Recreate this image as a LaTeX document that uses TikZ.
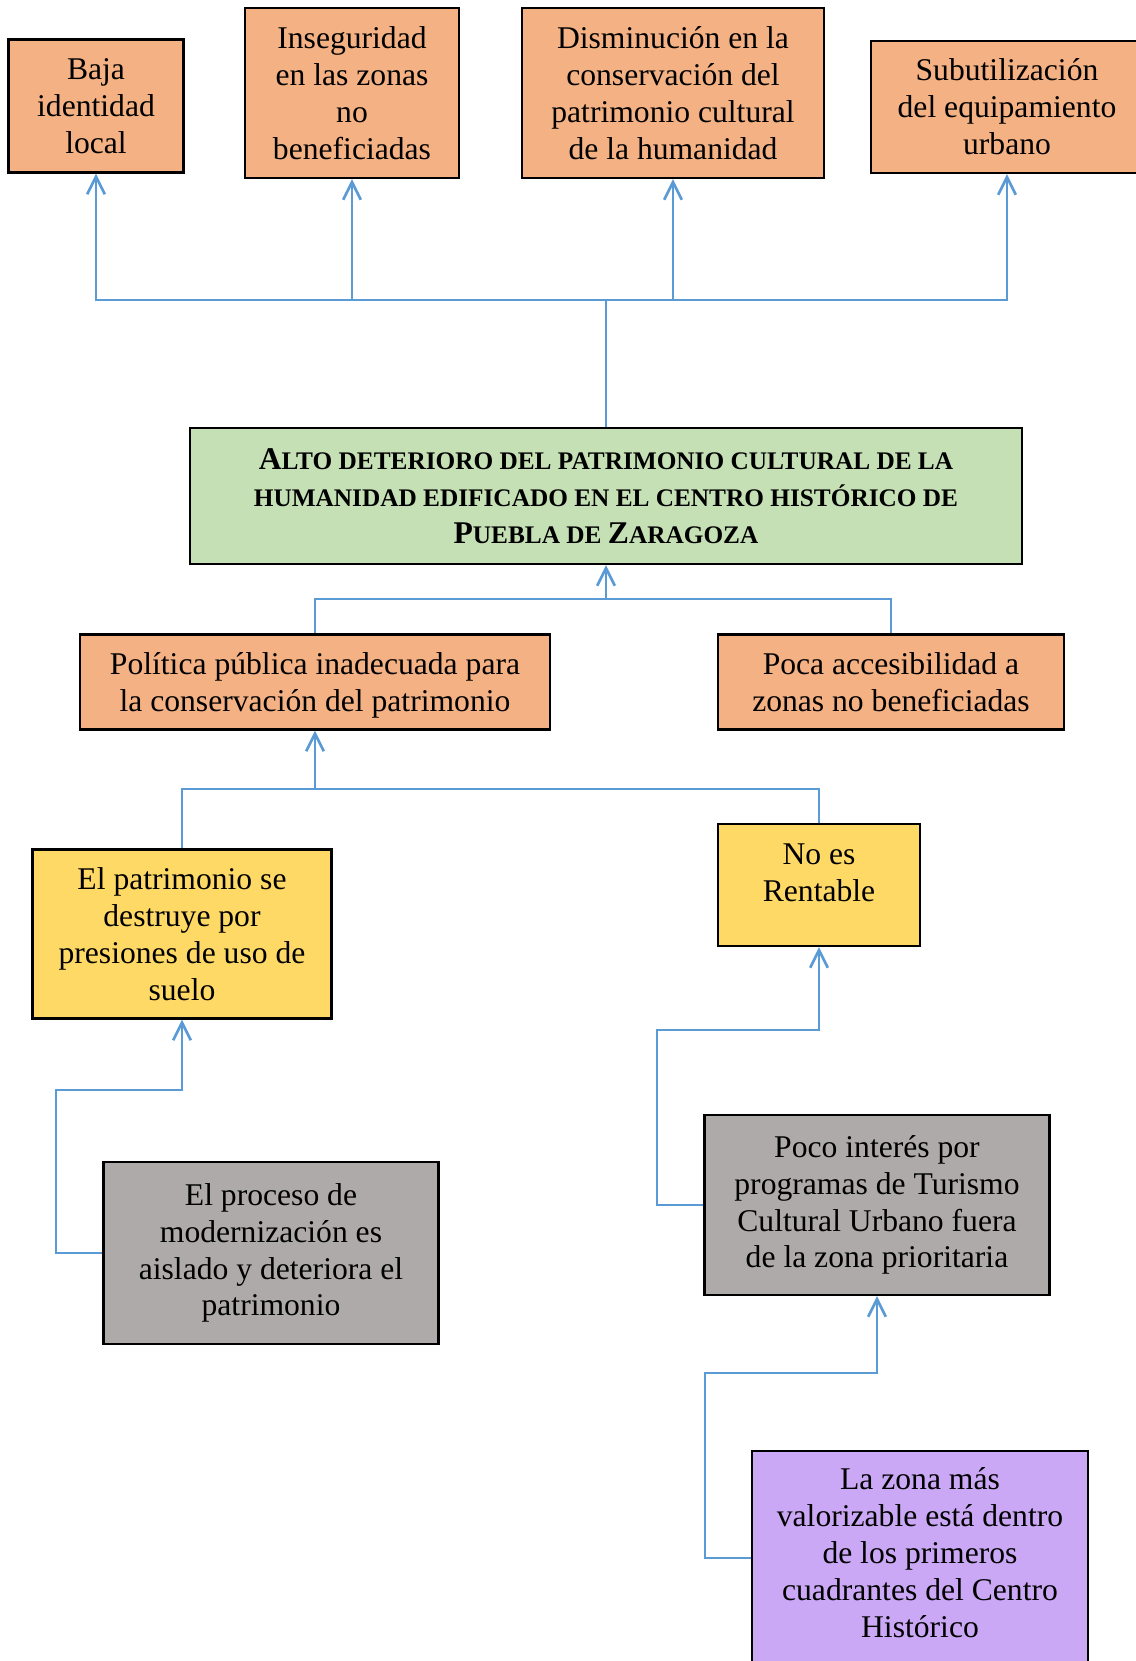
\documentclass[tikz,border=0pt]{standalone}
\usepackage{fontspec}
\setmainfont{Liberation Serif}
\usetikzlibrary{arrows.meta}
\definecolor{naranja}{HTML}{F4B183}
\definecolor{verde}{HTML}{C5E0B4}
\definecolor{amarillo}{HTML}{FFD966}
\definecolor{gris}{HTML}{AEAAAA}
\definecolor{lila}{HTML}{CBA8F5}
\definecolor{azul}{HTML}{5B9BD5}
\newcommand{\capini}[1]{{\fontsize{18}{21}\selectfont #1}}

\begin{document}
\begin{tikzpicture}[
      x=0.02cm, y=-0.02cm,
      every node/.style={inner sep=2pt,align=center,font=\fontsize{18}{21}\selectfont},
      caja/.style={draw=black,line width=1.4pt},
      efecto/.style={caja,fill=naranja},
      problema/.style={caja,fill=verde,font=\bfseries\fontsize{14.4}{21}\selectfont},
      causa/.style={caja,fill=amarillo},
      raiz/.style={caja,fill=gris},
      origen/.style={caja,fill=lila},
      linea/.style={draw=azul,line width=1.5pt},
      flecha/.style={linea,-{Straight Barb[length=10pt,width=10pt]}}
    ]
      \useasboundingbox (0,0) rectangle (1136,1661);
      \clip (0,0) rectangle (1136,1661);

      % efectos
      \node[efecto,minimum width=3.5cm,minimum height=2.66cm] (baja) at (96,106)
        {Baja\\identidad\\local};
      \node[efecto,minimum width=4.28cm,minimum height=3.4cm] (inseg) at (352,93)
        {Inseguridad\\en las zonas\\no\\beneficiadas};
      \node[efecto,minimum width=6.04cm,minimum height=3.4cm] (dismin) at (673,93)
        {Disminución en la\\conservación del\\patrimonio cultural\\de la humanidad};
      \node[efecto,minimum width=5.44cm,minimum height=2.64cm] (subut) at (1007,107)
        {Subutilización\\del equipamiento\\urbano};

      % problema central
      \node[problema,minimum width=16.64cm,minimum height=2.72cm] (alto) at (606,496)
        {\capini{A}LTO DETERIORO DEL PATRIMONIO CULTURAL DE LA\\
         HUMANIDAD EDIFICADO EN EL CENTRO HISTÓRICO DE\\
         \capini{P}UEBLA DE \capini{Z}ARAGOZA};

      % causas
      \node[efecto,minimum width=9.4cm,minimum height=1.9cm,text depth=0pt] (politica) at (315,682)
        {Política pública inadecuada para\\la conservación del patrimonio};
      \node[efecto,minimum width=6.92cm,minimum height=1.9cm] (poca) at (891,682)
        {Poca accesibilidad a\\zonas no beneficiadas};
      \node[causa,minimum width=5.98cm,minimum height=3.38cm] (destruye) at (182,934)
        {El patrimonio se\\destruye por\\presiones de uso de\\suelo};
      \node[causa,minimum width=4.04cm,minimum height=2.44cm,text depth=14pt] (rentable) at (819,885)
        {No es\\Rentable};
      \node[raiz,minimum width=6.7cm,minimum height=3.64cm] (proceso) at (271,1253)
        {El proceso de\\modernización es\\aislado y deteriora el\\patrimonio};
      \node[raiz,minimum width=6.9cm,minimum height=3.6cm] (interes) at (877,1205)
        {Poco interés por\\programas de Turismo\\Cultural Urbano fuera\\de la zona prioritaria};
      \node[origen,minimum width=6.72cm,minimum height=4.28cm,text depth=6pt] (zona) at (920,1558)
        {La zona más\\valorizable está dentro\\de los primeros\\cuadrantes del Centro\\Histórico};

      % conectores
      \coordinate (e0) at (606,300);
      \draw[linea] (alto.north) -- (e0);
      \draw[flecha] (e0) -| (baja.south);
      \draw[flecha] (e0) -| (inseg.south);
      \draw[flecha] (e0) -| (dismin.south);
      \draw[flecha] (e0) -| (subut.south);

      \coordinate (j1) at (606,599);
      \draw[linea] (politica.north) |- (j1) -| (poca.north);
      \draw[flecha] (j1) -- (alto.south);

      \coordinate (j2) at (315,789);
      \draw[linea] (destruye.north) |- (j2) -| (rentable.north);
      \draw[flecha] (j2) -- (politica.south);

      \coordinate (k1) at (56,1090);
      \draw[flecha] (proceso.west) -| (k1) -| (destruye.south);
      \coordinate (k2) at (657,1030);
      \draw[flecha] (interes.west) -| (k2) -| (rentable.south);
      \coordinate (k3) at (705,1373);
      \draw[flecha] (zona.west) -| (k3) -| (interes.south);
    \end{tikzpicture}
\end{document}
